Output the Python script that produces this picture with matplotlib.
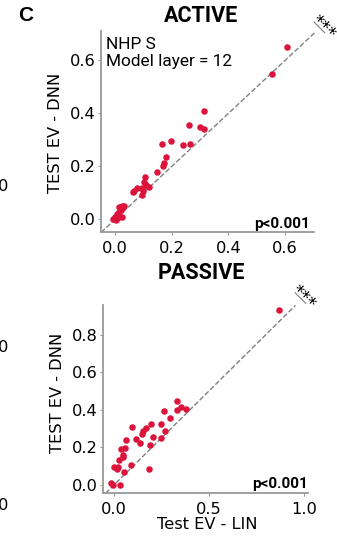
import numpy as np
import matplotlib
matplotlib.use("Agg")
import matplotlib.pyplot as plt
import matplotlib.transforms as mtransforms

# --- données : EV test LIN (x) contre DNN (y), une valeur par neurone ---
active_lin = [0.606, 0.553, 0.313, 0.262, 0.300, 0.315, 0.197, 0.166, 0.239, 0.265,
              0.178, 0.171, 0.168, 0.147, 0.104, 0.102, 0.109, 0.118, 0.096, 0.065,
              0.076, 0.062, 0.094, 0.100, 0.024, 0.015, 0.029, 0.020, 0.012, 0.006,
              0.000, -0.006, 0.004, 0.024, 0.012, 0.030]
active_dnn = [0.649, 0.548, 0.408, 0.355, 0.347, 0.340, 0.297, 0.284, 0.280, 0.284,
              0.236, 0.211, 0.202, 0.177, 0.158, 0.140, 0.128, 0.123, 0.117, 0.108,
              0.118, 0.104, 0.092, 0.108, 0.050, 0.045, 0.045, 0.035, 0.029, 0.019,
              0.010, 0.000, -0.003, 0.010, 0.010, 0.052]

passive_lin = [0.870, 0.330, 0.351, 0.377, 0.333, 0.263, 0.295, 0.195, 0.247, 0.168,
               0.093, 0.154, 0.267, 0.146, 0.207, 0.246, 0.116, 0.137, 0.189, 0.063,
               0.038, 0.056, 0.046, 0.049, 0.028, 0.088, 0.000, 0.021, 0.014, 0.054,
               0.186, -0.017, -0.007, 0.032]
passive_dnn = [0.931, 0.449, 0.417, 0.403, 0.396, 0.394, 0.355, 0.323, 0.323, 0.305,
               0.307, 0.287, 0.289, 0.271, 0.254, 0.252, 0.243, 0.222, 0.211, 0.239,
               0.190, 0.195, 0.160, 0.147, 0.133, 0.108, 0.097, 0.094, 0.084, 0.068,
               0.085, 0.012, 0.000, 0.000]

ROUGE = "#DC143C"
GRIS = "#999999"
FS = 11.7

plt.rcParams["font.family"] = "DejaVu Sans"
plt.rcParams["font.size"] = FS

fig = plt.figure(figsize=(3.37, 5.38), dpi=100)
W, H = 337, 538


def rect(l, r, t, b):
    return [l / W, (H - b) / H, (r - l) / W, (b - t) / H]


ax1 = fig.add_axes(rect(101, 314, 31, 232))
ax2 = fig.add_axes(rect(103, 308, 305, 493))


def style(ax):
    for s in ["top", "right"]:
        ax.spines[s].set_visible(False)
    for s in ["left", "bottom"]:
        ax.spines[s].set_color(GRIS)
        ax.spines[s].set_linewidth(1.3)
    ax.tick_params(length=2, width=0.8, color=GRIS, pad=2, labelsize=FS)
    ax.tick_params(axis="x", pad=4.5)


def etoiles(ax, fin, seg, demi, pos):
    # barre + *** perpendiculaires à la diagonale, décalés en pixels
    cx, cy = ax.transData.transform((fin, fin))
    t = mtransforms.Affine2D().translate(cx, cy)
    ax.plot([seg[0] - demi, seg[0] + demi], [seg[1] + demi, seg[1] - demi],
            color="gray", lw=0.8, transform=t, clip_on=False)
    ax.text(pos[0], pos[1], "***", transform=t, rotation=-45, ha="center",
            va="center", fontsize=13, clip_on=False)


# ACTIVE
ax1.set_xlim(-0.05, 0.702)
ax1.set_ylim(-0.048, 0.711)
ax1.plot([-0.05, 0.705], [-0.05, 0.705], ls="--", color="gray", lw=1, clip_on=False)
ax1.scatter(active_lin, active_dnn, s=22, color=ROUGE, linewidths=0, zorder=3)
ax1.set_xticks([0, 0.2, 0.4, 0.6])
ax1.set_yticks([0, 0.2, 0.4, 0.6])
style(ax1)
ax1.set_ylabel("TEST EV - DNN", fontsize=FS)
ax1.yaxis.set_label_coords(-0.177, 0.495)
ax1.text(0.023, 0.968, "NHP S\nModel layer = 12", transform=ax1.transAxes,
         ha="left", va="top", family="Roboto", fontsize=12.4, linespacing=1.15)
ax1.text(0.979, 0.022, "p<0.001", transform=ax1.transAxes, ha="right",
         va="baseline", family="Roboto", weight="bold", fontsize=11)
etoiles(ax1, 0.705, (4.4, 5.3), 5.3, (8, 5))

# PASSIVE
ax2.set_xlim(-0.058, 1.021)
ax2.set_ylim(-0.043, 0.957)
ax2.plot([-0.045, 0.955], [-0.045, 0.955], ls="--", color="gray", lw=1, clip_on=False)
ax2.scatter(passive_lin, passive_dnn, s=22, color=ROUGE, linewidths=0, zorder=3)
ax2.set_xticks([0, 0.5, 1.0])
ax2.set_yticks([0, 0.2, 0.4, 0.6, 0.8])
style(ax2)
ax2.set_ylabel("TEST EV - DNN", fontsize=FS)
ax2.yaxis.set_label_coords(-0.185, 0.53)
ax2.set_xlabel("Test EV - LIN", fontsize=FS)
ax2.xaxis.set_label_coords(0.507, -0.13)
ax2.text(1.0, 0.027, "p<0.001", transform=ax2.transAxes, ha="right",
         va="baseline", family="Roboto", weight="bold", fontsize=11)
etoiles(ax2, 0.955, (5, 7.3), 5.3, (8, 8))

# titres et lettre du panneau
fig.text(201 / W, 1 - 15.8 / H, "ACTIVE", ha="center", va="center",
         family="Roboto", weight="bold", fontsize=15.5)
fig.text(201 / W, 1 - 273 / H, "PASSIVE", ha="center", va="center",
         family="Roboto", weight="bold", fontsize=15.5)
fig.text(25.8 / W, 1 - 15.8 / H, "C", ha="center", va="center",
         family="Liberation Sans", weight="bold", fontsize=15)

# restes des étiquettes du panneau voisin
for yy in [186.5, 348, 505]:
    fig.text(8 / W, 1 - yy / H, "0", ha="right", va="center", fontsize=FS)

fig.savefig("out.png", dpi=100)
